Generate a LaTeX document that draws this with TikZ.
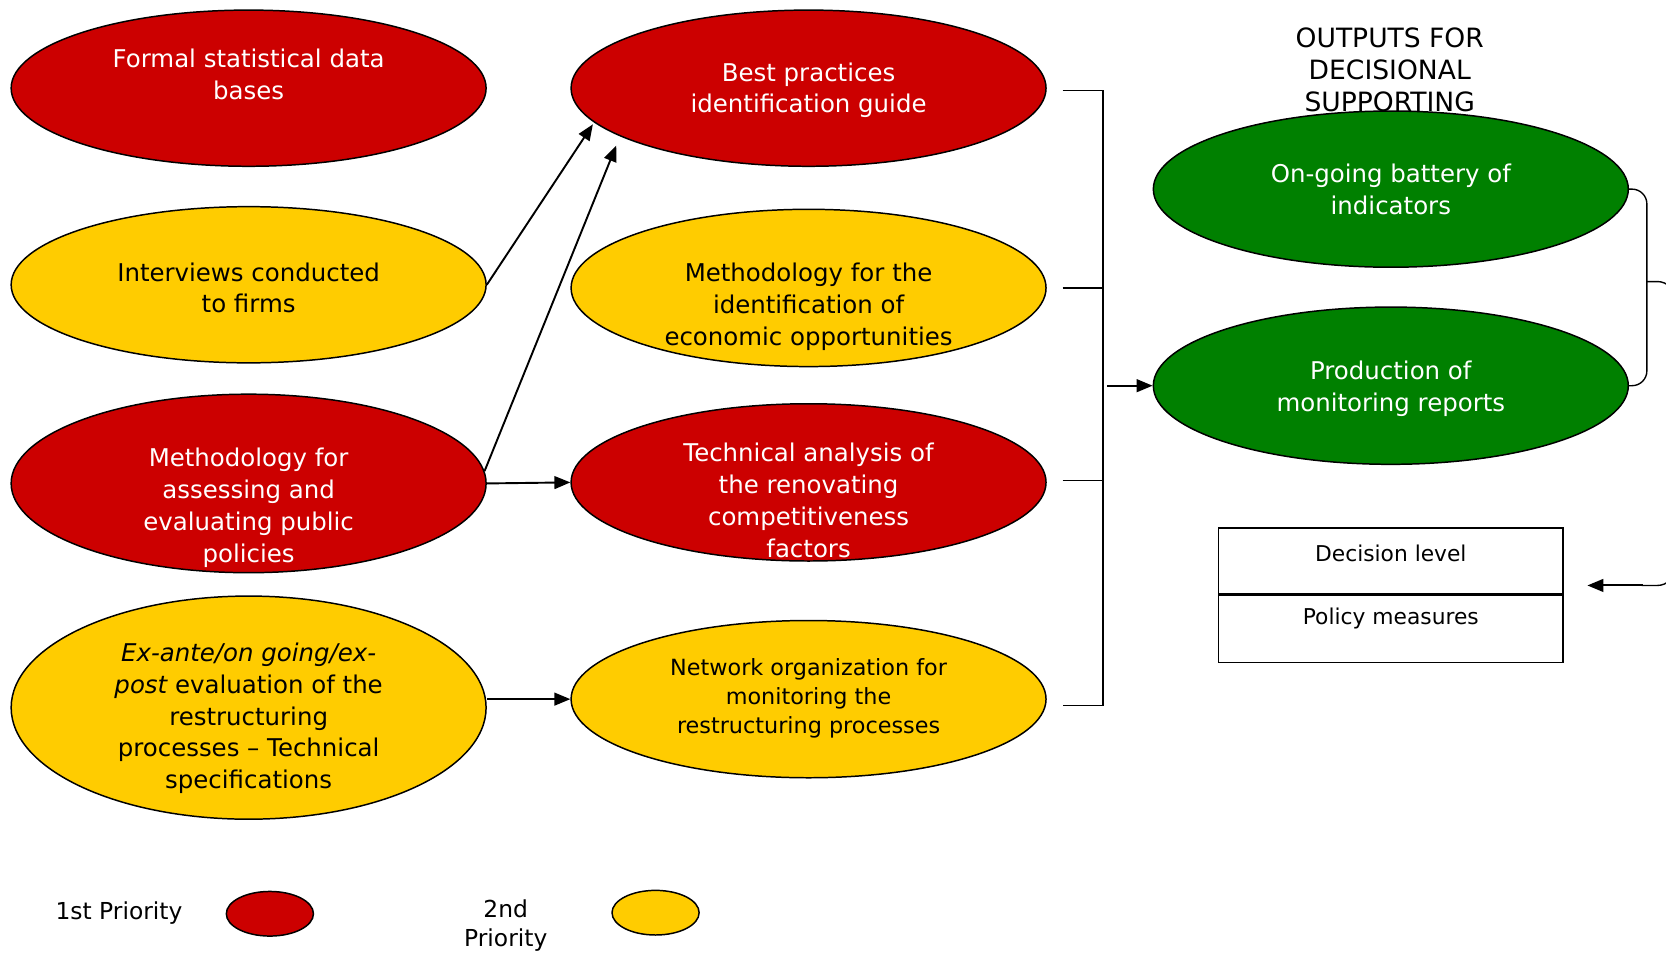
\documentclass[tikz,border=0pt]{standalone}
\usepackage{fontspec}
\setmainfont{DejaVu Sans}
\usetikzlibrary{shapes.geometric,arrows.meta}
\definecolor{pred}{RGB}{204,0,0}
\definecolor{pyel}{RGB}{255,204,0}
\definecolor{pgreen}{RGB}{0,128,0}
\begin{document}
\begin{tikzpicture}[x=1pt,y=-1pt,
  ell/.style={ellipse,draw=black,line width=1.4pt,inner sep=0pt,minimum width=447pt,minimum height=147pt},
  redell/.style={ell,fill=pred},
  yelell/.style={ell,fill=pyel},
  grnell/.style={ell,fill=pgreen},
  txt/.style={align=center,inner sep=0pt,font=\fontsize{23}{30}\selectfont},
  wtxt/.style={txt,text=white},
  smtxt/.style={align=center,inner sep=0pt,font=\fontsize{21}{27.5}\selectfont},
  boxtxt/.style={align=center,inner sep=0pt,font=\fontsize{20.5}{27}\selectfont},
  conn/.style={line width=1.8pt,-{Triangle[length=15pt,width=12pt]}},
  brk/.style={line width=1.3pt},
  legell/.style={ellipse,draw=black,line width=1.4pt,inner sep=0pt,minimum width=82pt,minimum height=42pt}
]
\useasboundingbox (0,0) rectangle (1568,897);
\clip (0,0) rectangle (1568,897);

% title (drawn first; green ellipse overlaps it)
\node[align=center,inner sep=0pt,font=\fontsize{25}{30}\selectfont] (title) at (1308,66) {OUTPUTS FOR\\DECISIONAL\\SUPPORTING};

% left column
\node[redell] (L1) at (234,83) {};
\node[wtxt] (L1t) at (234,70) {Formal statistical data\\bases};
\node[yelell] (L2) at (234,268) {};
\node[txt] (L2t) at (234,271) {Interviews conducted\\to firms};
\node[redell,minimum height=168pt] (L3) at (234,455) {};
\node[wtxt] (L3t) at (234,478) {Methodology for\\assessing and\\evaluating public\\policies};
\node[yelell,minimum height=210pt] (L4) at (234,666) {};
\node[txt] (L4t) at (234,676) {\itshape Ex-ante/on going/ex-\\\itshape post\upshape{} evaluation of the\\restructuring\\processes – Technical\\specifications};

% middle column
\node[redell] (M1) at (761,83) {};
\node[wtxt] (M1t) at (761,85) {Best practices\\identification guide};
\node[yelell,minimum height=148pt] (M2) at (761,271) {};
\node[txt] (M2t) at (761,289) {Methodology for the\\identification of\\economic opportunities};
\node[redell,minimum height=148pt] (M3) at (761,454) {};
\node[wtxt] (M3t) at (761,471) {Technical analysis of\\the renovating\\competitiveness\\factors};
\node[yelell,minimum height=148pt] (M4) at (761,658) {};
\node[smtxt] (M4t) at (761,657) {Network organization for\\monitoring the\\restructuring processes};

% right column
\node[grnell] (G1) at (1309,178) {};
\node[wtxt] (G1t) at (1309,178) {On-going battery of\\indicators};
\node[grnell,minimum height=148pt] (G2) at (1309,363) {};
\node[wtxt] (G2t) at (1309,366) {Production of\\monitoring reports};

% decision box
\node[draw=black,line width=1.3pt,minimum width=324pt,minimum height=62pt,inner sep=0pt] (DL) at (1309,528) {};
\node[draw=black,line width=1.3pt,minimum width=324pt,minimum height=63pt,inner sep=0pt,anchor=north] (PM) at (DL.south) {};
\node[boxtxt] (DLt) at (1309,521) {Decision level};
\node[boxtxt] (PMt) at (1309,582) {Policy measures};

% arrows between ellipses
\draw[conn] (L2.east) -- ([shift={(-203,34)}]M1.center);
\draw[conn] (L3.3) -- ([shift={(-181,54)}]M1.center);
\draw[conn] (L3.east) -- (M3.west);
\draw[conn] (L4.east |- M4.west) -- (M4.west);

% bracket
\coordinate (s1) at (1038,85);
\coordinate (s4) at (1038,664);
\draw[brk] (1000,85) -- (s1) -- (s4) -- (1000,664);
\draw[brk] (1000,271) -- (1038,271);
\draw[brk] (1000,452) -- (1038,452);
\coordinate (sa) at (1042,365);
\draw[conn] (sa |- G2.west) -- (G2.west);

% right brace and return arrow
\coordinate (bm) at (1550,265);
\coordinate (ret) at (1494,551);
\draw[brk,rounded corners=14pt] (G1.east) -- (1550,178) -- (1550,363) -- (G2.east);
\draw[brk,rounded corners=16pt] (bm) -- (1576,265) -- (1576,551) -- (1545,551);
\draw[conn] (1546,551) -- (ret);

% legend
\node[align=center,inner sep=0pt,font=\fontsize{22}{27}\selectfont] (p1t) at (112,859) {1st Priority};
\node[legell,fill=pred] (p1) at (254,860) {};
\node[align=center,inner sep=0pt,font=\fontsize{22}{27}\selectfont] (p2t) at (476,871) {2nd\\Priority};
\node[legell,fill=pyel] (p2) at (617,859) {};
\end{tikzpicture}
\end{document}
